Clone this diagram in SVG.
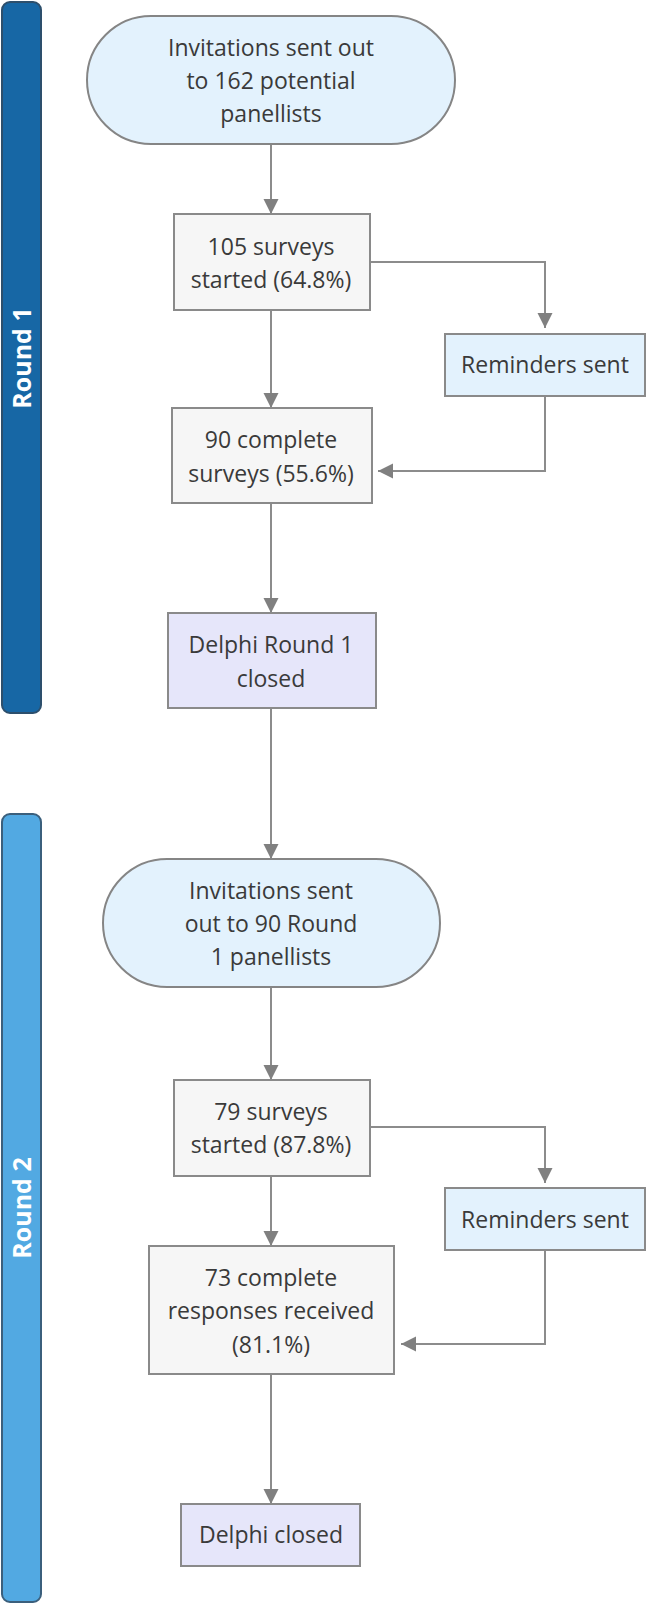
<svg xmlns="http://www.w3.org/2000/svg" width="646" height="1605" viewBox="0 0 646 1605">
<style>
.t{font-family:"Open Sans","Noto Sans","Liberation Sans",sans-serif;font-size:23px;fill:#3a3a3a;text-anchor:middle}
.lbl{font-family:"Open Sans","Noto Sans","Liberation Sans",sans-serif;font-size:25px;font-weight:bold;fill:#ffffff;text-anchor:middle;dominant-baseline:central}
.term{fill:#e3f2fd;stroke:#858585;stroke-width:2}
.box{fill:#f6f6f6;stroke:#8a8a8a;stroke-width:2}
.rem{fill:#e3f2fd;stroke:#8a8a8a;stroke-width:2}
.end{fill:#e6e6fa;stroke:#8a8a8a;stroke-width:2}
.c{fill:none;stroke:#8c8c8c;stroke-width:2;marker-end:url(#ah)}
</style>
<defs>
<marker id="ah" markerUnits="userSpaceOnUse" markerWidth="16" markerHeight="16" refX="15" refY="7.5" orient="auto">
<path d="M0,0 L15,7.5 L0,15 Z" fill="#808080"/>
</marker>
</defs>
<rect width="646" height="1605" fill="#ffffff"/>
<g id="lane1">
<rect x="2" y="2" width="39" height="711" rx="8" fill="#1767a5" stroke="#2d4f6c" stroke-width="2"/>
<text class="lbl" transform="translate(21,358) rotate(-90)">Round 1</text>
</g>
<g id="lane2">
<rect x="2" y="814" width="39" height="788" rx="8" fill="#52a9e2" stroke="#3b5f7c" stroke-width="2"/>
<text class="lbl" transform="translate(21,1208) rotate(-90)">Round 2</text>
</g>
<g id="connectors">
<path class="c" d="M271,144 V214"/>
<path class="c" d="M370,262 H545 V328"/>
<path class="c" d="M271,310 V408"/>
<path class="c" d="M545,396 V471 H378"/>
<path class="c" d="M271,503 V613"/>
<path class="c" d="M271,708 V859"/>
<path class="c" d="M271,987 V1080"/>
<path class="c" d="M370,1127 H545 V1183"/>
<path class="c" d="M271,1176 V1246"/>
<path class="c" d="M545,1250 V1344 H401"/>
<path class="c" d="M271,1374 V1504"/>
</g>
<g id="n1">
<rect class="term" x="87" y="16" width="368" height="128" rx="64"/>
<text class="t" x="271" y="56">Invitations sent out</text>
<text class="t" x="271" y="89">to 162 potential</text>
<text class="t" x="271" y="122">panellists</text>
</g>
<g id="n2">
<rect class="box" x="174" y="214" width="196" height="96"/>
<text class="t" x="271" y="255">105 surveys</text>
<text class="t" x="271" y="288">started (64.8%)</text>
</g>
<g id="n3">
<rect class="rem" x="445" y="334" width="200" height="62"/>
<text class="t" x="545" y="373">Reminders sent</text>
</g>
<g id="n4">
<rect class="box" x="172" y="408" width="200" height="95"/>
<text class="t" x="271" y="448">90 complete</text>
<text class="t" x="271" y="482">surveys (55.6%)</text>
</g>
<g id="n5">
<rect class="end" x="168" y="613" width="208" height="95"/>
<text class="t" x="271" y="653">Delphi Round 1</text>
<text class="t" x="271" y="687">closed</text>
</g>
<g id="n6">
<rect class="term" x="103" y="859" width="337" height="128" rx="64"/>
<text class="t" x="271" y="899">Invitations sent</text>
<text class="t" x="271" y="932">out to 90 Round</text>
<text class="t" x="271" y="965">1 panellists</text>
</g>
<g id="n7">
<rect class="box" x="174" y="1080" width="196" height="96"/>
<text class="t" x="271" y="1120">79 surveys</text>
<text class="t" x="271" y="1153">started (87.8%)</text>
</g>
<g id="n8">
<rect class="rem" x="445" y="1188" width="200" height="62"/>
<text class="t" x="545" y="1228">Reminders sent</text>
</g>
<g id="n9">
<rect class="box" x="149" y="1246" width="245" height="128"/>
<text class="t" x="271" y="1286">73 complete</text>
<text class="t" x="271" y="1319">responses received</text>
<text class="t" x="271" y="1353">(81.1%)</text>
</g>
<g id="n10">
<rect class="end" x="181" y="1504" width="179" height="62"/>
<text class="t" x="271" y="1543">Delphi closed</text>
</g>
</svg>
